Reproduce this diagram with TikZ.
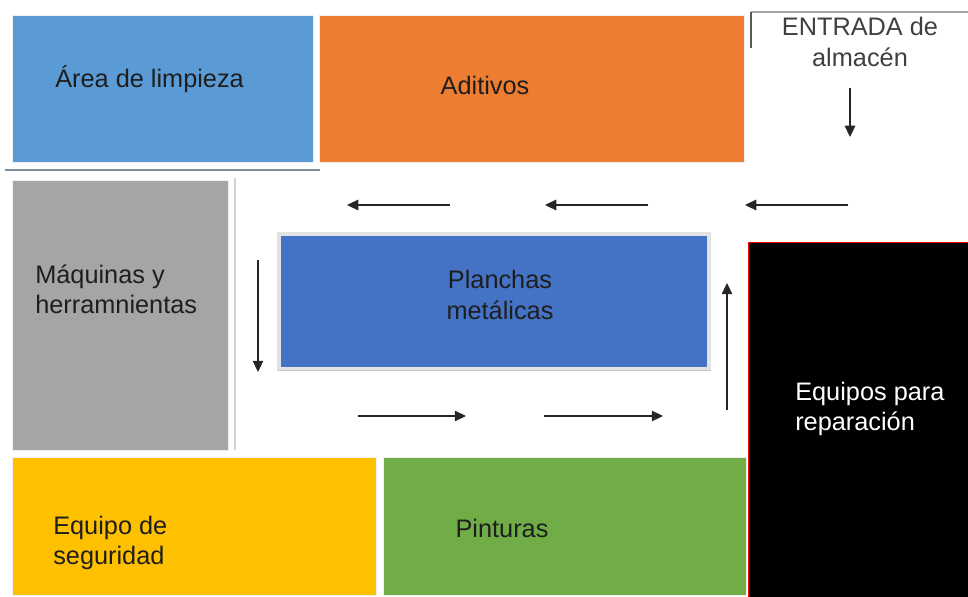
\documentclass[tikz,border=0pt]{standalone}
\usepackage{fontspec}
\setmainfont{Liberation Sans}
\usetikzlibrary{arrows.meta, positioning}
\definecolor{limpC}{RGB}{91, 155, 213}
\definecolor{aditC}{RGB}{237, 125, 49}
\definecolor{maqC} {RGB}{165, 165, 165}
\definecolor{planC}{RGB}{68, 114, 196}
\definecolor{segC} {RGB}{255, 192, 0}
\definecolor{pintC}{RGB}{112, 173, 71}
\definecolor{txtC} {RGB}{30, 30, 30}
\definecolor{sepC} {RGB}{125, 140, 158}
\tikzset{
  zone/.style = {rectangle, anchor=north west, inner sep=0pt,
                 draw=gray!12, line width=1pt},
  arr/.style  = {-{Triangle[length=8pt, width=7.5pt]}, line width=0.8pt,
                 color=black!85},
  lbl/.style  = {font=\fontsize{18}{21.5}\selectfont, align=left,
                 text=txtC, inner sep=0pt},
  wall/.style = {line width=#1, color=gray!60},
}

\begin{document}
\begin{tikzpicture}[x=0.025cm, y=-0.025cm]

\def\u{0.025cm}  % one pixel of the plan
\useasboundingbox (0,0) rectangle (968,597);

% ============================================================
%  Top row: cleaning area, additives, entrance
% ============================================================

\node[zone, fill=limpC, minimum width=301*\u, minimum height=147*\u]
  (limpieza) at (12,15) {};
\node[zone, fill=aditC, minimum width=425*\u, minimum height=147*\u]
  (aditivos) at (319,15) {};

\node[lbl, anchor=west] (tlimp) at (55,79) {Área de limpieza};
\node[lbl] (tadit) at (485,85) {Aditivos};

% Entrance corner
\draw[wall=1pt, color=gray!70] (751,12) -- (968,12);
\draw[wall=1.5pt, color=black!65] (751,12) -- (751,48);
\node[lbl, align=center, text=black!75] (tentr) at (860,42)
  {ENTRADA de\\almacén};

\coordinate (in1) at (850,88);
\coordinate (in2) at (850,137);
\draw[arr] (in1) -- (in2);

% thin separators
\draw[line width=1.2pt, color=sepC] (5,170) -- (320,170);
\draw[wall=1.2pt, color=gray!35] (235,178) -- (235,450);

% ============================================================
%  Middle: machines, sheet store, flow arrows, repair
% ============================================================

\node[zone, fill=maqC, minimum width=216*\u, minimum height=270*\u]
  (maquinas) at (12,180) {};
\node[lbl, anchor=west] (tmaq) at (35,289) {Máquinas y\\herramnientas};

\node[zone, fill=planC, draw=gray!22, line width=2.5pt,
      minimum width=430*\u, minimum height=135*\u]
  (planchas) at (277,232) {};
\draw[line width=1.2pt, color=gray!45] (planchas.south west) -- (planchas.south east);
\node[lbl, align=center] (tplan) at (500,295) {Planchas\\metálicas};

\node[zone, fill=black, draw=red, line width=0.8pt,
      minimum width=222*\u, minimum height=357*\u]
  (equipos) at (748,242) {};
\node[lbl, anchor=west, text=white] (tequi) at (795,409)
  {Equipos para\\reparación};

% Flow round the sheet store
\coordinate (t1a) at (450,205);  \coordinate (t1b) at (347,205);
\coordinate (t2a) at (648,205);  \coordinate (t2b) at (545,205);
\coordinate (t3a) at (848,205);  \coordinate (t3b) at (745,205);
\draw[arr] (t1a) -- (t1b);
\draw[arr] (t2a) -- (t2b);
\draw[arr] (t3a) -- (t3b);

\coordinate (l1) at (258,260);  \coordinate (l2) at (258,372);
\draw[arr] (l1) -- (l2);

\coordinate (b1a) at (358,416);  \coordinate (b1b) at (466,416);
\coordinate (b2a) at (544,416);  \coordinate (b2b) at (663,416);
\draw[arr] (b1a) -- (b1b);
\draw[arr] (b2a) -- (b2b);

\coordinate (r1) at (727,410);  \coordinate (r2) at (727,283);
\draw[arr] (r1) -- (r2);

% ============================================================
%  Bottom row: safety gear, paints
% ============================================================

\node[zone, fill=segC, minimum width=364*\u, minimum height=138*\u]
  (seguridad) at (12,457) {};
\node[zone, fill=pintC, minimum width=363*\u, minimum height=138*\u]
  (pinturas) at (383,457) {};

\node[lbl, anchor=west] (tseg) at (53,543) {Equipo de\\seguridad};
\node[lbl] (tpint) at (502,528) {Pinturas};

\end{tikzpicture}
\end{document}
